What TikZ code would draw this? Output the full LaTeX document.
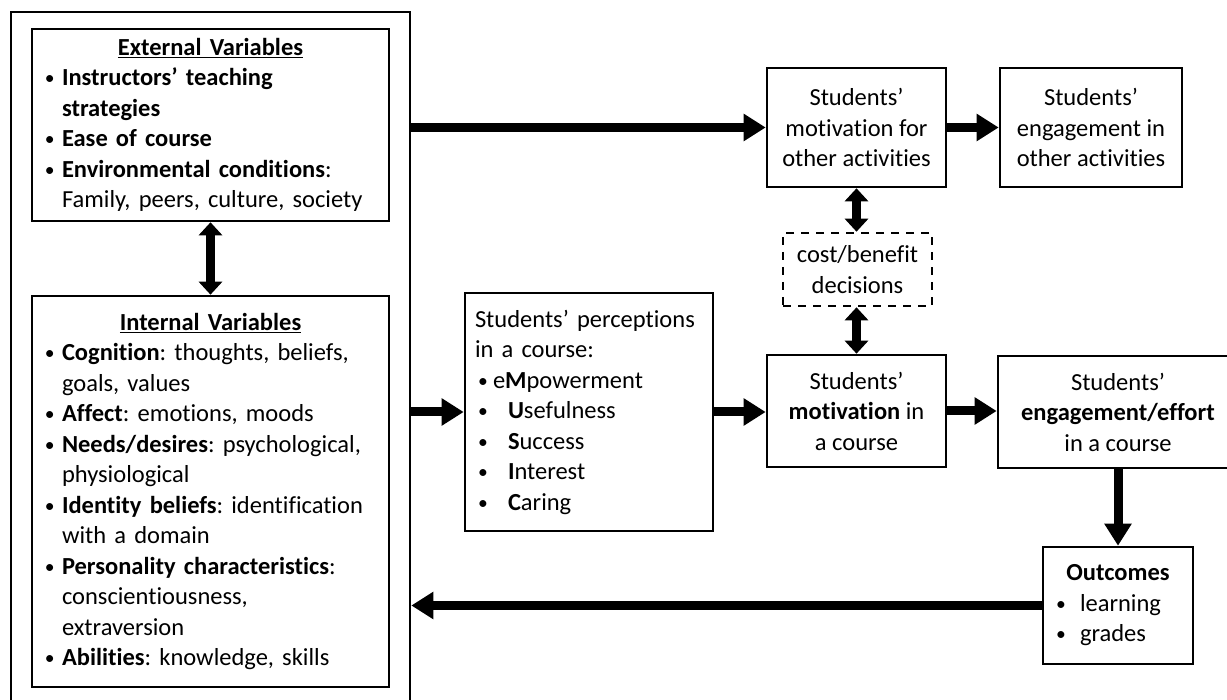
\documentclass[tikz,border=0pt]{standalone}
\usepackage{fontspec}
\setmainfont{Carlito}[Ligatures={TeX,NoCommon}]
\usetikzlibrary{arrows.meta}
\frenchspacing

\newcommand{\smalldot}{\raisebox{1pt}{\scalebox{0.8}{•}}}
\newcommand{\bul}{\makebox[18pt][l]{\hspace*{1pt}\smalldot}}
\newcommand{\ind}{\hspace*{18pt}}
\newcommand{\tbul}{\hspace*{4pt}\makebox[30pt][l]{\smalldot}}
\newcommand{\obul}{\makebox[25pt][l]{\hspace*{1pt}\smalldot}}

\begin{document}
\begin{tikzpicture}[x=1pt, y=-1pt,
    block/.style={draw, line width=2.6pt, inner sep=0pt, align=center, font=\fontsize{24.5}{30.5}\selectfont},
    listblock/.style={block, align=left, inner xsep=12pt},
    arrow/.style={-{Triangle[length=22pt,width=26pt]}, line width=9pt},
    dblarrow/.style={{Triangle[length=13pt,width=23pt]}-{Triangle[length=13pt,width=23pt]}, line width=9pt}
]
\useasboundingbox (0,0) rectangle (1227,700);

% frame round the two variable boxes
\node[draw, line width=2.6pt, minimum width=399pt, minimum height=708pt] (frame) at (210.5,366) {};

\node[listblock, minimum width=357pt, minimum height=192pt, text width=333pt] (ext) at (210.5,125) {%
{\centering\underline{\textbf{External Variables}}\par}
\bul\textbf{Instructors’ teaching}\\
\ind\textbf{strategies}\\
\bul\textbf{Ease of course}\\
\bul\textbf{Environmental conditions}:\\
\ind Family, peers, culture, society};

\node[listblock, minimum width=357pt, minimum height=391pt, text width=333pt] (int) at (210.5,491.5) {%
{\centering\underline{\textbf{Internal Variables}}\par}
\bul\textbf{Cognition}: thoughts, beliefs,\\
\ind goals, values\\
\bul\textbf{Affect}: emotions, moods\\
\bul\textbf{Needs/desires}: psychological,\\
\ind physiological\\
\bul\textbf{Identity beliefs}: identification\\
\ind with a domain\\
\bul\textbf{Personality characteristics}:\\
\ind conscientiousness,\\
\ind extraversion\\
\bul\textbf{Abilities}: knowledge, skills};

\node[listblock, inner xsep=9pt, minimum width=248pt, minimum height=238pt, text width=230pt] (perc) at (589,412) {%
\hspace*{1pt}Students’ perceptions\\
\hspace*{1pt}in a course:\\
\hspace*{4pt}\makebox[15pt][l]{\smalldot}e\textbf{M}powerment\\
\tbul\textbf{U}sefulness\\
\tbul\textbf{S}uccess\\
\tbul\textbf{I}nterest\\
\tbul\textbf{C}aring};

\node[block, minimum width=179pt, minimum height=119pt] (moto) at (856.5,127.5) {Students’\\motivation for\\other activities};
\node[block, minimum width=182pt, minimum height=119pt] (engo) at (1091,127.5) {Students’\\engagement in\\other activities};
\node[block, dash pattern=on 8pt off 7pt, minimum width=149pt, minimum height=73pt] (cost) at (857.5,269.5) {cost/benefit\\decisions};
\node[block, minimum width=179pt, minimum height=112pt] (motc) at (856.5,411) {Students’\\\textbf{motivation} in\\a course};
\node[block, minimum width=240pt, minimum height=112pt] (engc) at (1118,412) {Students’\\\textbf{engagement/effort}\\in a course};

\node[listblock, minimum width=150pt, minimum height=117pt, text width=126pt] (outc) at (1118,605.5) {%
{\centering\textbf{Outcomes}\par}
\obul learning\\
\obul grades};

\draw[dblarrow] (ext) -- (int);
\draw[arrow] (frame.east |- moto.west) -- (moto.west);
\draw[arrow] (moto) -- (engo);
\draw[dblarrow] (moto.south) -- (moto.south |- cost.north);
\draw[dblarrow] (cost.south -| motc.north) -- (motc.north);
\draw[arrow] (frame.east |- perc.west) -- (perc.west);
\draw[arrow] (perc.east) -- (perc.east -| motc.west);
\draw[arrow] (motc.east) -- (motc.east -| engc.west);
\draw[arrow] (engc) -- (outc);
\draw[arrow] (outc.west) -- (outc.west -| frame.east);
\end{tikzpicture}
\end{document}
